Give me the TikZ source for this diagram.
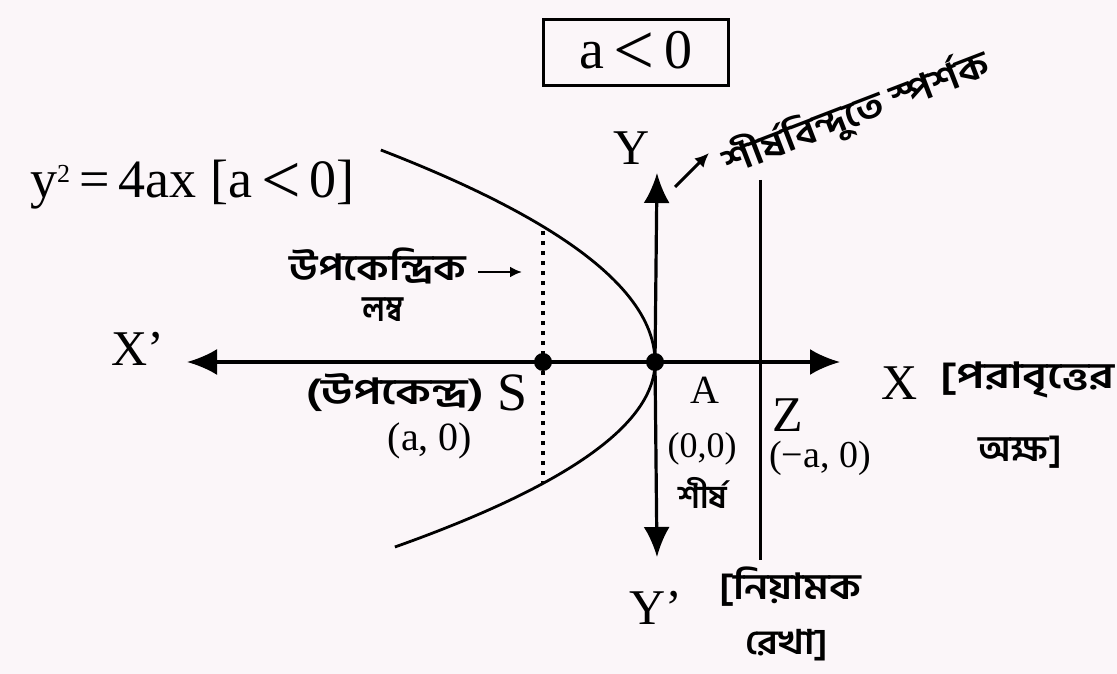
\documentclass[tikz,border=0pt]{standalone}
\usepackage{fontspec}
\setmainfont{Liberation Serif}
\newfontfamily\bn[Script=Bengali]{Hind Siliguri}
\usetikzlibrary{arrows.meta}
\definecolor{paper}{HTML}{FBF6F9}
\newcommand{\wdx}[2]{\scalebox{#1}[1]{#2}}
\newcommand{\ltsym}{\raisebox{-0.1em}{\scalebox{1.3}{<}}}
\begin{document}
\begin{tikzpicture}[x=1pt,y=-1pt,
  ax/.style={line width=3.2pt,-{Latex[length=30pt,width=26pt]}},
  lbl/.style={inner sep=0pt,font=\fontsize{50}{56}\selectfont},
  sml/.style={inner sep=0pt,font=\fontsize{38}{42}\selectfont},
  bng/.style={inner sep=0pt,font=\bn\bfseries\fontsize{36}{40}\selectfont},
  dotpt/.style={circle,fill=black,inner sep=0pt,minimum size=18pt}]
\fill[paper] (0,0) rectangle (1117,674);
\useasboundingbox (0,0) rectangle (1117,674);
% box
\node[draw,line width=3pt,minimum width=185pt,minimum height=66pt,inner sep=0pt,
  font=\fontsize{56}{60}\selectfont] (cond) at (636,53) {a\,\ltsym\,0};
% equation
\node[lbl,anchor=west,font=\fontsize{54}{58}\selectfont] (eq) at (30,185)
  {y\raisebox{0.62ex}{\fontsize{26}{28}\selectfont 2}\,=\,4ax [a\,\ltsym\,0]};
% points
\node[dotpt] (A) at (655,362) {};
\node[dotpt] (S) at (543,362) {};
% axes
\coordinate (xr) at (840,362);
\coordinate (xl) at (187,362);
\coordinate (yt) at (657,173);
\coordinate (yb) at (657,557);
\draw[ax] (A.center) -- (xr);
\draw[ax] (A.center) -- (xl);
\draw[ax] (A.center) -- (yt);
\draw[ax] (A.center) -- (yb);
% parabola
\draw[line width=2.8pt] plot[domain=-212:0,samples=60,smooth] ({655-0.61*(\x/10)*(\x/10)},{362+\x});
\draw[line width=2.8pt] plot[domain=0:185,samples=60,smooth] ({655-0.76*(\x/10)*(\x/10)},{362+\x});
% latus rectum
\coordinate (lrt) at (543,231);
\coordinate (lrb) at (543,483);
\draw[line width=3.5pt,dash pattern=on 4pt off 6pt] (lrt) -- (lrb);
% directrix
\coordinate (dt) at (760,180);
\coordinate (db) at (760,560);
\draw[line width=3pt] (dt) -- (db);
% axis labels
\node[lbl] (Xp) at (138,349) {X'};
\node[lbl] (Xl) at (900,383) {X};
\node[lbl] (Yl) at (632,148) {Y};
\node[lbl] (Ypl) at (656,608) {Y'};
\node[lbl,font=\fontsize{40}{44}\selectfont] (Al) at (705,390) {A};
\node[lbl] (Zl) at (788,415) {Z};
\node[lbl,font=\fontsize{54}{58}\selectfont] (Sl) at (513,393) {S};
\node[sml,font=\fontsize{40}{44}\selectfont] (Sc) at (430,441) {(a, 0)};
\node[sml,font=\fontsize{36}{40}\selectfont] (Ac) at (702,449) {(0,0)};
\node[sml] (Zc) at (820,458) {(−a, 0)};
% bengali labels
\node[bng] (Sb) at (395,393) {\wdx{1.3}{(উপকেন্দ্র)}};
\node[bng,font=\bn\bfseries\fontsize{32}{36}\selectfont] (Ab) at (703,493) {শীর্ষ};
\node[bng,anchor=east] (xa1) at (1115,380) {\wdx{1.3}{[পরাবৃত্তের}};
\node[bng] (xa2) at (1020,452) {অক্ষ]};
\node[bng] (dr1) at (790,587) {\wdx{1.15}{[নিয়ামক}};
\node[bng,font=\bn\bfseries\fontsize{34}{38}\selectfont] (dr2) at (787,645) {\wdx{1.15}{রেখা]}};
\node[bng] (lr1) at (378,266) {\wdx{1.18}{উপকেন্দ্রিক}};
\node[bng] (lr2) at (383,310) {\wdx{0.85}{লম্ব}};
\coordinate (lra) at (478,272);
\coordinate (lrarr) at (522,272);
\draw[line width=2.5pt,-{Latex[length=12pt,width=11pt]}] (lra) -- (lrarr);
% tangent label
\node[bng,rotate=21,anchor=south west] (tg) at (733,184) {\wdx{1.15}{শীর্ষবিন্দুতে স্পর্শক}};
\coordinate (tga) at (675,187);
\coordinate (tgb) at (709,153);
\draw[line width=3pt,-{Latex[length=14pt,width=13pt]}] (tga) -- (tgb);
\end{tikzpicture}
\end{document}
